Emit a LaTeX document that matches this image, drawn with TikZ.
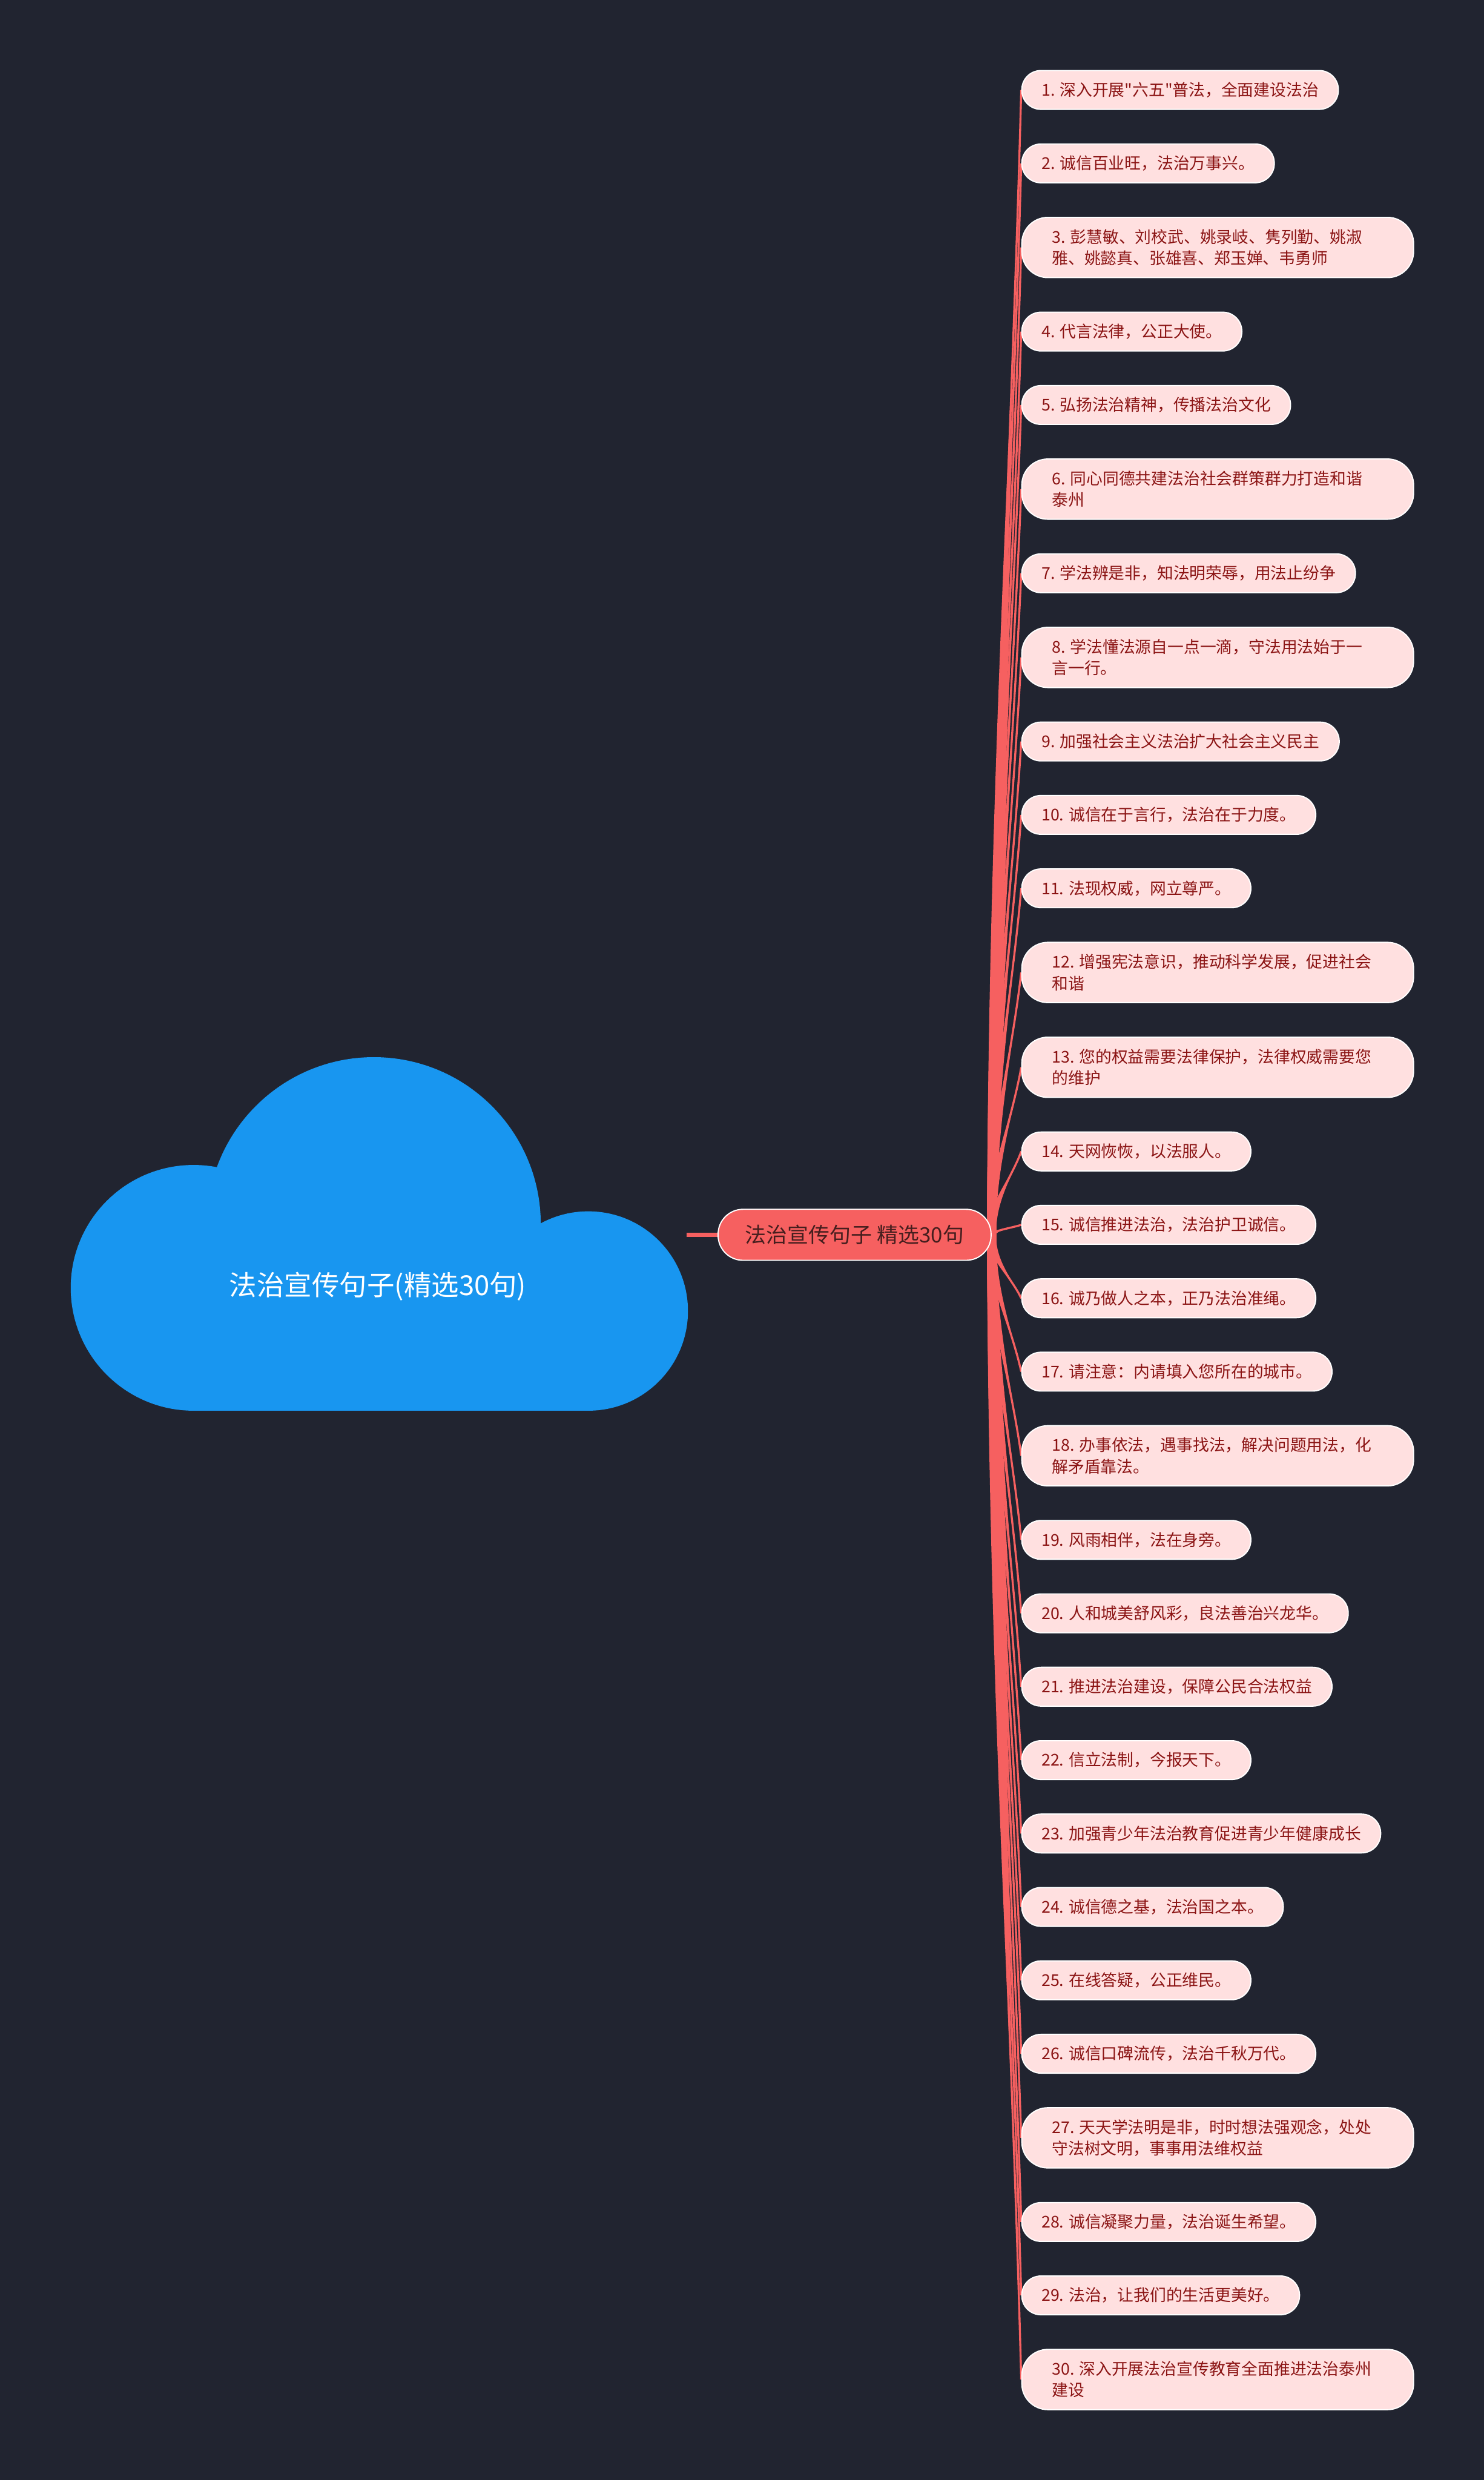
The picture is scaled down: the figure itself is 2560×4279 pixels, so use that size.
\documentclass[tikz,border=0pt]{standalone}
\usepackage{fontspec}
\newfontfamily\cjk{Noto Sans CJK SC}
\usetikzlibrary{calc}

\definecolor{bgcol}{RGB}{33,36,48}
\definecolor{cloudblue}{RGB}{24,150,240}
\definecolor{rootred}{RGB}{246,96,96}
\definecolor{roottext}{RGB}{70,30,30}
\definecolor{itemfill}{RGB}{255,224,224}
\definecolor{itemtext}{RGB}{139,20,20}

\pgfdeclarelayer{back}
\pgfdeclarelayer{twigs}
\pgfsetlayers{back,twigs,main}

\tikzset{
  root/.style={draw=white, line width=2pt, fill=rootred, text=roottext,
    rounded corners=43pt, minimum width=471pt, minimum height=88pt,
    inner xsep=0pt, font=\cjk\fontsize{36.5}{44}\selectfont},
  title/.style={text=white, font=\cjk\fontsize{47.5}{56}\selectfont},
  item/.style={draw=white, line width=2pt, fill=itemfill, text=itemtext,
    rounded corners=33pt, minimum height=67pt, inner xsep=34pt, inner ysep=0pt,
    anchor=west, font=\cjk\fontsize{28}{36.7}\selectfont},
  item2/.style={item, rounded corners=45pt, minimum height=104pt,
    inner xsep=52pt, text width=572pt, align=flush left},
  branchline/.style={rootred}
}

% tapered connector from the root to one sentence
\newcommand{\branch}[1]{%
  \fill[branchline] ($(root.east)+(-8,0)$)
    .. controls ($(root.east)!0.4!(root.east |- #1.west)+(-6,0)$)
    and ($(#1.west)!0.3!(root.east)$) .. (#1.west)
    .. controls ($(#1.west)!0.3!(root.east)$)
    and ($(root.east)!0.4!(root.east |- #1.west)+(6,0)$) .. ($(root.east)+(8,0)$)
    -- cycle;
  \draw[branchline, line width=3.5pt] (root.east)
    .. controls ($(root.east)!0.4!(root.east |- #1.west)$)
    and ($(#1.west)!0.3!(root.east)$) .. (#1.west);
}

\begin{document}
\begin{tikzpicture}[x=1pt,y=-1pt]
  \useasboundingbox (0,0) rectangle (2560,4279);
  \begin{pgfonlayer}{back}
    \fill[bgcol] (0,0) rectangle (2560,4279);
  \end{pgfonlayer}

  % CLOUD
  \fill[cloudblue] (334,2222) circle (212);
  \fill[cloudblue] (645,2112) circle (288);
  \fill[cloudblue] (1015,2262) circle (172);
  \fill[cloudblue] (334,2222) rectangle (1015,2434);
  \node[title] (title) at (652,2220) {法治宣传句子(精选30句)};

  % ROOT
  \node[root] (root) at (1474.5,2130.5) {法治宣传句子 精选30句};
  \coordinate (stub) at (1185,2130.5);

  % SENTENCES
  \node[item]  (i1)  at (1762,155.2)  {1. 深入开展"六五"普法，全面建设法治};
  \node[item]  (i2)  at (1762,281.9)  {2. 诚信百业旺，法治万事兴。};
  \node[item2] (i3)  at (1762,427.0)  {3. 彭慧敏、刘校武、姚录岐、隽列勤、姚淑\\雅、姚懿真、张雄喜、郑玉婵、韦勇师};
  \node[item]  (i4)  at (1762,572.1)  {4. 代言法律，公正大使。};
  \node[item]  (i5)  at (1762,698.8)  {5. 弘扬法治精神，传播法治文化};
  \node[item2] (i6)  at (1762,843.9)  {6. 同心同德共建法治社会群策群力打造和谐\\泰州};
  \node[item]  (i7)  at (1762,989.1)  {7. 学法辨是非，知法明荣辱，用法止纷争};
  \node[item2] (i8)  at (1762,1134.3) {8. 学法懂法源自一点一滴，守法用法始于一\\言一行。};
  \node[item]  (i9)  at (1762,1279.4) {9. 加强社会主义法治扩大社会主义民主};
  \node[item]  (i10) at (1762,1406.0) {10. 诚信在于言行，法治在于力度。};
  \node[item]  (i11) at (1762,1532.7) {11. 法现权威，网立尊严。};
  \node[item2] (i12) at (1762,1677.9) {12. 增强宪法意识，推动科学发展，促进社会\\和谐};
  \node[item2] (i13) at (1762,1841.5) {13. 您的权益需要法律保护，法律权威需要您\\的维护};
  \node[item]  (i14) at (1762,1986.7) {14. 天网恢恢，以法服人。};
  \node[item]  (i15) at (1762,2113.3) {15. 诚信推进法治，法治护卫诚信。};
  \node[item]  (i16) at (1762,2240.0) {16. 诚乃做人之本，正乃法治准绳。};
  \node[item]  (i17) at (1762,2366.6) {17. 请注意：内请填入您所在的城市。};
  \node[item2] (i18) at (1762,2511.8) {18. 办事依法，遇事找法，解决问题用法，化\\解矛盾靠法。};
  \node[item]  (i19) at (1762,2656.9) {19. 风雨相伴，法在身旁。};
  \node[item]  (i20) at (1762,2783.6) {20. 人和城美舒风彩，良法善治兴龙华。};
  \node[item]  (i21) at (1762,2910.2) {21. 推进法治建设，保障公民合法权益};
  \node[item]  (i22) at (1762,3036.9) {22. 信立法制，今报天下。};
  \node[item]  (i23) at (1762,3163.5) {23. 加强青少年法治教育促进青少年健康成长};
  \node[item]  (i24) at (1762,3290.2) {24. 诚信德之基，法治国之本。};
  \node[item]  (i25) at (1762,3416.8) {25. 在线答疑，公正维民。};
  \node[item]  (i26) at (1762,3543.5) {26. 诚信口碑流传，法治千秋万代。};
  \node[item2] (i27) at (1762,3688.6) {27. 天天学法明是非，时时想法强观念，处处\\守法树文明，事事用法维权益};
  \node[item]  (i28) at (1762,3833.8) {28. 诚信凝聚力量，法治诞生希望。};
  \node[item]  (i29) at (1762,3960.4) {29. 法治，让我们的生活更美好。};
  \node[item2] (i30) at (1762,4105.6) {30. 深入开展法治宣传教育全面推进法治泰州\\建设};

  % BRANCHES
  \begin{pgfonlayer}{twigs}
    \draw[branchline, line width=7pt] (stub) -- (root.west);
    \branch{i1}  \branch{i2}  \branch{i3}  \branch{i4}  \branch{i5}
    \branch{i6}  \branch{i7}  \branch{i8}  \branch{i9}  \branch{i10}
    \branch{i11} \branch{i12} \branch{i13} \branch{i14} \branch{i15}
    \branch{i16} \branch{i17} \branch{i18} \branch{i19} \branch{i20}
    \branch{i21} \branch{i22} \branch{i23} \branch{i24} \branch{i25}
    \branch{i26} \branch{i27} \branch{i28} \branch{i29} \branch{i30}
  \end{pgfonlayer}
\end{tikzpicture}
\end{document}
